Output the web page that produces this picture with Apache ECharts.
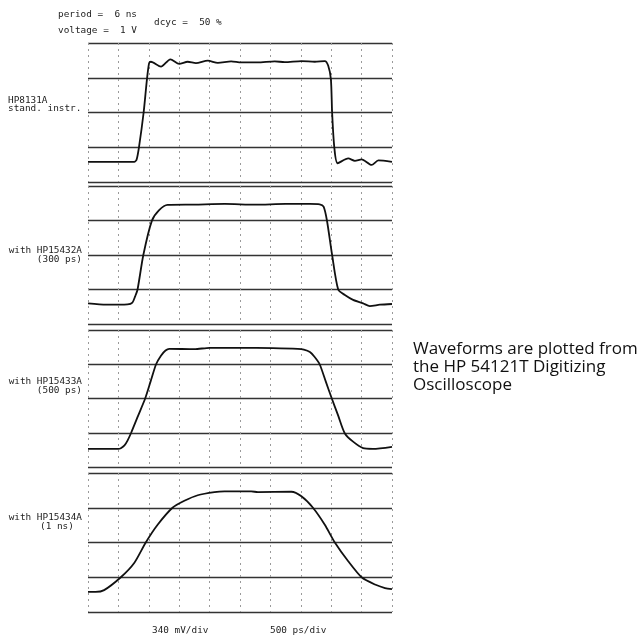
<!DOCTYPE html>
<html>
<head>
<meta charset="utf-8">
<script src="https://cdn.jsdelivr.net/npm/echarts@6/dist/echarts.min.js"></script>
<style>
  html, body { margin: 0; padding: 0; background: #fff; }
  #chart { width: 642px; height: 635px; }
</style>
</head>
<body>
<div id="chart"></div>
<script>
// time in divisions (500 ps/div), level in divisions (340 mV/div)
var std_t = [0, 1.52, 1.6, 1.68, 1.83, 1.94, 2.01, 2.07, 2.4, 2.71, 3.0, 3.28, 3.55, 3.94, 4.27, 4.71, 5.04, 5.58, 6.14, 6.47, 7.02, 7.46, 7.79, 7.9, 7.99, 8.03, 8.1, 8.21, 8.56, 8.78, 9.0, 9.33, 9.55, 10];
var std_v = [0.58, 0.58, 0.65, 1.02, 2.0, 2.96, 3.42, 3.46, 3.32, 3.53, 3.4, 3.46, 3.42, 3.49, 3.43, 3.47, 3.44, 3.44, 3.47, 3.45, 3.48, 3.46, 3.48, 3.35, 2.96, 2.0, 1.02, 0.54, 0.68, 0.61, 0.65, 0.49, 0.62, 0.58];

var f300_t = [0, 0.6, 1.3, 1.46, 1.55, 1.63, 1.82, 2.1, 2.34, 2.62, 3.5, 4.5, 5.5, 6.5, 7.3, 7.62, 7.75, 7.86, 8.03, 8.23, 8.45, 8.72, 9.05, 9.27, 9.6, 10];
var f300_v = [0.6, 0.56, 0.57, 0.62, 0.8, 1.0, 2.0, 2.99, 3.3, 3.45, 3.46, 3.48, 3.46, 3.48, 3.48, 3.47, 3.4, 3.0, 2.0, 1.0, 0.84, 0.7, 0.6, 0.52, 0.56, 0.58];

var f500_t = [0, 1.0, 1.08, 1.2, 1.3, 1.42, 1.65, 1.88, 2.06, 2.24, 2.4, 2.55, 2.67, 3.5, 4.0, 5.0, 6.08, 6.9, 7.1, 7.3, 7.45, 7.62, 7.82, 8.02, 8.23, 8.45, 8.72, 9.05, 9.37, 10];
var f500_v = [0.53, 0.53, 0.55, 0.63, 0.77, 1.0, 1.5, 2.0, 2.5, 3.0, 3.25, 3.4, 3.45, 3.44, 3.48, 3.48, 3.47, 3.45, 3.43, 3.36, 3.22, 3.0, 2.5, 2.0, 1.5, 0.98, 0.74, 0.55, 0.53, 0.59];

var f1n_t = [0, 0.25, 0.53, 1.08, 1.52, 1.9, 2.29, 2.78, 3.17, 3.61, 4.16, 4.49, 5.37, 5.59, 6.69, 7.02, 7.4, 7.79, 8.12, 8.56, 9.0, 9.44, 9.77, 10];
var f1n_v = [0.58, 0.58, 0.63, 1.0, 1.41, 2.0, 2.51, 3.0, 3.2, 3.36, 3.45, 3.47, 3.47, 3.45, 3.46, 3.33, 3.0, 2.51, 2.0, 1.46, 1.0, 0.79, 0.69, 0.66];

var panelNames = ['HP8131A', 'HP15432A', 'HP15433A', 'HP15434A'];

var mono = '"DejaVu Sans Mono", monospace';
var sans = '"Open Sans", sans-serif';

function pairs(t, v) {
  return t.map(function (x, i) { return [x, v[i]]; });
}

var chart = echarts.init(document.getElementById('chart'));

var grids = [
  {left: 88, top: 43, width: 304, height: 139},
  {left: 88, top: 186, width: 304, height: 138},
  {left: 88, top: 330, width: 304, height: 137},
  {left: 88, top: 473, width: 304, height: 139}
];

var xAxes = [], yAxes = [];
grids.forEach(function (g, i) {
  xAxes.push({
    type: 'value', gridIndex: i, min: 0, max: 10, interval: 1,
    axisLine: {show: false}, axisTick: {show: false}, axisLabel: {show: false},
    splitLine: {show: true, lineStyle: {color: '#9a9a9a', width: 1, type: [2, 4]}}
  });
  yAxes.push({
    type: 'value', gridIndex: i, min: 0, max: 4, interval: 1,
    axisLine: {show: false}, axisTick: {show: false}, axisLabel: {show: false},
    splitLine: {show: true, lineStyle: {color: '#333', width: 1.4}}
  });
});

var waves = [pairs(std_t, std_v), pairs(f300_t, f300_v), pairs(f500_t, f500_v), pairs(f1n_t, f1n_v)];

var series = waves.map(function (d, i) {
  return {
    name: panelNames[i],
    type: 'line',
    xAxisIndex: i, yAxisIndex: i,
    data: d,
    smooth: 0.25,
    showSymbol: false,
    animation: false,
    lineStyle: {color: '#111', width: 1.8}
  };
});

// small typewriter labels, squashed vertically like the plotter font
function lbl(x, y, s, align) {
  return {
    type: 'text', x: x, y: y, scaleY: 0.85,
    style: {text: s, fill: '#222', font: '9.4px ' + mono, textAlign: align || 'left', textVerticalAlign: 'middle'}
  };
}
function note(x, y, s) {
  return {
    type: 'text', x: x, y: y,
    style: {text: s, fill: '#111', font: '17px ' + sans, textAlign: 'left', textVerticalAlign: 'middle'}
  };
}

chart.setOption({
  animation: false,
  grid: grids,
  xAxis: xAxes,
  yAxis: yAxes,
  series: series,
  graphic: [
    lbl(58, 15, 'period =  6 ns'),
    lbl(58, 31, 'voltage =  1 V'),
    lbl(154, 23, 'dcyc =  50 %'),
    lbl(8, 100.5, 'HP8131A'),
    lbl(8, 108.5, 'stand. instr.'),
    lbl(82, 251, 'with HP15432A', 'right'),
    lbl(82, 260, '(300 ps)', 'right'),
    lbl(82, 382, 'with HP15433A', 'right'),
    lbl(82, 391, '(500 ps)', 'right'),
    lbl(82, 518, 'with HP15434A', 'right'),
    lbl(40, 527, '(1 ns)'),
    lbl(152, 631, '340 mV/div'),
    lbl(270, 631, '500 ps/div'),
    note(413, 349, 'Waveforms are plotted from'),
    note(413, 367, 'the HP 54121T Digitizing'),
    note(413, 385, 'Oscilloscope')
  ]
});
</script>
</body>
</html>
